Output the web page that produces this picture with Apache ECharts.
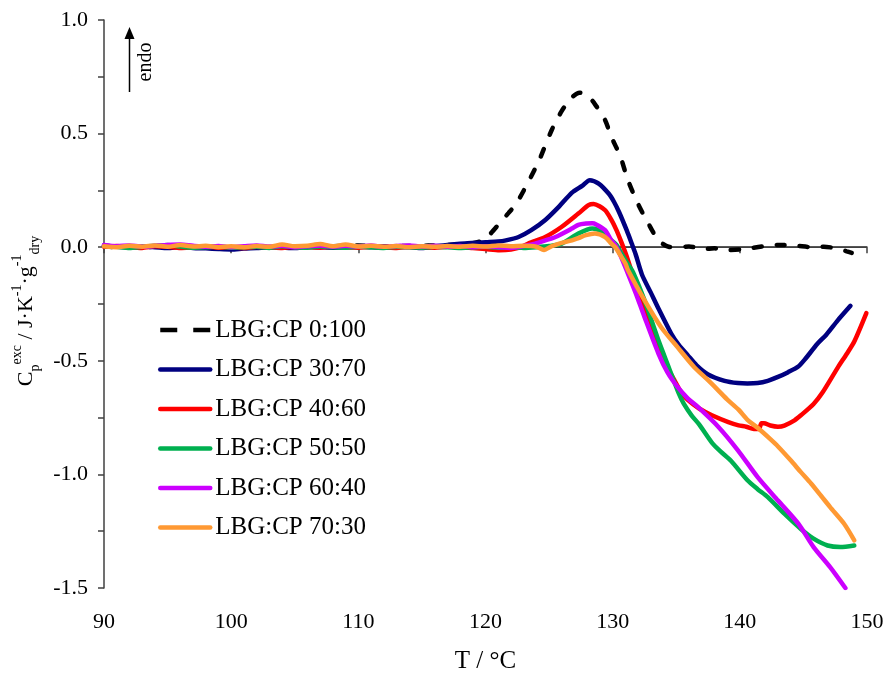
<!DOCTYPE html>
<html>
<head>
<meta charset="utf-8">
<script src="https://cdn.jsdelivr.net/npm/echarts@6/dist/echarts.min.js"></script>
<style>
  html, body { margin: 0; padding: 0; background: #fff; }
  #chart { width: 888px; height: 676px; }
</style>
</head>
<body>
<div id="chart"></div>
<script>
// Excess heat capacity curves, [T (°C), Cp exc (J·K-1·g-1 dry)]
const SERIES_NAMES = ['LBG:CP 0:100', 'LBG:CP 30:70', 'LBG:CP 40:60', 'LBG:CP 50:50', 'LBG:CP 60:40', 'LBG:CP 70:30'];
const SERIES_COLORS = ['#000000', '#000080', '#ff0000', '#00b050', '#cc00ff', '#ff9933'];

const cp0_100 = [
  [90,0.005],[91,0],[92,0.004],[93,-0.002],[94,0.003],[95,0],[96,0.004],[97,0.001],[98,-0.002],[99,-0.004],
  [100,-0.002],[101,0],[102,0.003],[103,0],[104,0.002],[105,0.004],[106,0.003],[107,0.001],[108,0.004],[109,0.006],
  [110,0.008],[111,0.005],[112,0.004],[113,0.006],[114,0.005],[115,0.006],[116,0.008],[117,0.01],[118,0.012],[119,0.018],
  [119.8,0.03],[120.4,0.06],[121.1,0.105],[121.8,0.15],[122.4,0.19],[123.3,0.28],[124.2,0.38],[125.2,0.515],[126,0.6],
  [126.8,0.66],[127.4,0.68],[127.9,0.675],[128.6,0.63],[129.4,0.56],[129.9,0.485],[130.6,0.4],[131.2,0.295],[132,0.19],
  [132.8,0.105],[133.6,0.03],[134.4,0.002],[135.1,0],[136,0.003],[137.2,-0.008],[138,-0.005],[139.1,-0.012],[140,-0.01],
  [140.9,-0.004],[142,0.005],[143,0.01],[144.5,0.006],[145.5,0.001],[146.6,0.002],[147.5,-0.004],[148.4,-0.018],[148.8,-0.025]
];
const cp30_70 = [
  [90,0.008],[91,0.002],[92,-0.002],[93,0.003],[94,0],[95,-0.004],[96,0.002],[97,-0.003],[98,-0.005],[99,-0.008],
  [100,-0.01],[101,-0.006],[102,-0.004],[103,0],[104,-0.002],[105,-0.004],[106,0.002],[107,0],[108,-0.002],[109,0],
  [110,0.003],[111,0],[112,-0.002],[113,0.002],[114,0],[115,-0.004],[116,0.004],[117,0.01],[118,0.015],[118.9,0.018],
  [120,0.022],[121,0.025],[121.6,0.03],[122.6,0.045],[123.6,0.075],[124.7,0.12],[125.8,0.18],[126.8,0.24],[127.6,0.27],
  [128.2,0.295],[128.9,0.28],[129.7,0.235],[130.1,0.2],[130.5,0.155],[131.1,0.075],[131.5,0.016],[131.8,-0.03],[132.3,-0.12],
  [133,-0.2],[133.6,-0.27],[134.6,-0.38],[135.2,-0.43],[135.9,-0.475],[136.6,-0.52],[137.5,-0.56],[138.8,-0.588],[139.85,-0.598],
  [140.6,-0.6],[141.4,-0.598],[142.2,-0.588],[143,-0.571],[143.8,-0.55],[144.6,-0.525],[145.1,-0.495],[146.1,-0.425],
  [146.8,-0.385],[147.7,-0.322],[148.7,-0.258]
];
const cp40_60 = [
  [90,0.002],[91,0.005],[92,0],[93,-0.003],[94,0.004],[95,0.002],[96,-0.003],[97,0],[98,0.003],[99,-0.002],
  [100,0],[101,-0.004],[102,0.002],[103,0],[104,-0.003],[105,0.002],[106,0],[107,-0.002],[108,0.003],[109,0],
  [110,-0.002],[111,0.002],[112,0],[113,-0.003],[114,0.002],[115,0],[116,-0.002],[117,0.002],[118,0],[119,-0.004],
  [120,-0.008],[121.1,-0.013],[122,-0.01],[122.8,0],[123.4,0.017],[124.7,0.045],[126,0.09],[127.3,0.148],[128.1,0.185],
  [128.5,0.19],[129.4,0.163],[129.9,0.12],[130.3,0.075],[130.7,0.02],[131.1,-0.04],[131.8,-0.16],[132.8,-0.32],[133.6,-0.45],
  [134.3,-0.53],[134.9,-0.59],[135.4,-0.64],[135.9,-0.672],[136.8,-0.71],[137.8,-0.74],[139.1,-0.77],[139.9,-0.784],
  [140.5,-0.79],[141.1,-0.8],[141.5,-0.8],[141.7,-0.775],[141.9,-0.775],[142.4,-0.785],[143,-0.79],[143.5,-0.785],
  [144.3,-0.762],[144.8,-0.74],[145.8,-0.69],[146.5,-0.64],[147.7,-0.53],[148.4,-0.47],[149,-0.415],[149.95,-0.29]
];
const cp50_50 = [
  [90,0.006],[91,0.002],[92,-0.003],[93,0.002],[94,0.006],[95,0.01],[96,0.003],[97,-0.002],[98,0],[99,0.003],
  [100,-0.002],[101,0],[102,0.002],[103,-0.003],[104,0.004],[105,0],[106,-0.002],[107,0.003],[108,0],[109,-0.002],
  [110,0.002],[111,0],[112,-0.003],[113,0.002],[114,0],[115,-0.002],[116,0.002],[117,0],[118,-0.003],[119,0],
  [120,0.002],[121,-0.002],[122,0],[123,-0.003],[124,0],[125,0.005],[126,0.016],[127.3,0.06],[128.4,0.082],[128.7,0.08],
  [129.2,0.067],[129.9,0.03],[130.3,0.01],[130.7,-0.028],[131.2,-0.075],[131.6,-0.11],[132.5,-0.233],[133.6,-0.41],
  [134.4,-0.527],[135.2,-0.644],[135.6,-0.69],[136.2,-0.74],[136.8,-0.78],[137.8,-0.86],[138.5,-0.9],[139.3,-0.94],
  [140.6,-1.026],[141.4,-1.065],[142.2,-1.1],[143.5,-1.173],[144.8,-1.24],[145.8,-1.283],[146.9,-1.313],[147.9,-1.32],[149,-1.313]
];
const cp60_40 = [
  [90,0.01],[91,0.004],[92,0.008],[93,0.002],[94,0.006],[95,0.01],[96,0.012],[97,0.006],[98,0.002],[99,0.005],
  [100,0],[101,0.004],[102,0.008],[103,0.003],[104,0.006],[105,0],[106,0.004],[107,0.008],[108,0.002],[109,0.006],
  [110,0.003],[111,0.007],[112,0.002],[113,0.005],[114,0.008],[115,0.003],[116,0.006],[117,0.002],[118,0.005],[119,0],
  [120,0.004],[121,0],[122,-0.003],[123,0.005],[123.9,0.016],[124.7,0.03],[125.5,0.045],[126.8,0.082],[127.3,0.098],
  [127.9,0.104],[128.4,0.105],[128.7,0.1],[129.4,0.075],[129.9,0.03],[130.2,0.01],[130.6,-0.035],[131.2,-0.116],
  [131.8,-0.2],[132.5,-0.307],[133.6,-0.468],[134.3,-0.55],[135.1,-0.615],[135.9,-0.665],[136.7,-0.703],[138.3,-0.79],
  [139.85,-0.894],[141.4,-1.012],[143,-1.115],[144.6,-1.217],[145.8,-1.32],[147.1,-1.408],[148.3,-1.5]
];
const cp70_30 = [
  [90,0.004],[91,0],[92,0.006],[93,0.002],[94,0.008],[95,0.002],[96,0.01],[97,0.003],[98,0.006],[99,0],
  [100,0.004],[101,0],[102,0.005],[103,0.002],[104,0.012],[105,0.004],[106,0.006],[107,0.014],[108,0.004],[109,0.012],
  [110,0.003],[111,0.006],[112,0.002],[113,0.005],[114,0],[115,0.004],[116,0.002],[117,0.005],[118,0.002],[119,0.006],
  [120,0.003],[121,0.008],[122,0.004],[123,0.006],[124,0.002],[124.6,-0.012],[125.2,0.004],[125.8,0.016],[126.8,0.03],
  [127.3,0.04],[127.9,0.053],[128.6,0.06],[129.4,0.045],[129.9,0.016],[130.2,0],[130.6,-0.035],[131,-0.072],[131.2,-0.1],
  [132.5,-0.233],[133.8,-0.351],[135.1,-0.44],[136.4,-0.527],[137.4,-0.58],[138.3,-0.63],[139,-0.67],[139.9,-0.715],
  [140.6,-0.76],[141.4,-0.795],[142.4,-0.845],[143,-0.877],[144,-0.938],[144.8,-0.99],[145.6,-1.04],[146.4,-1.095],
  [147.1,-1.144],[148.2,-1.217],[149,-1.29]
];
const SERIES_DATA = [cp0_100, cp30_70, cp40_60, cp50_50, cp60_40, cp70_30];

// zero reference line across the whole x range
const ZERO_LINE = [[90, 0], [150, 0]];

const X_MIN = 90, X_MAX = 150, X_STEP = 10;
const Y_MIN = -1.5, Y_MAX = 1.0, Y_STEP = 0.5;

const FONT = '"Liberation Serif", "Times New Roman", serif';
const AXIS_COLOR = '#404040';
const LINE_W = 4.5;

const chart = echarts.init(document.getElementById('chart'));

const series = [{
  name: 'zero',
  type: 'line',
  data: ZERO_LINE,
  symbol: 'none',
  silent: true,
  z: 1,
  lineStyle: { color: AXIS_COLOR, width: 1.5 },
}];
SERIES_NAMES.forEach((name, i) => {
  series.push({
    name,
    type: 'line',
    data: SERIES_DATA[i],
    symbol: 'none',
    smooth: 0.25,
    z: 2 + i,
    color: SERIES_COLORS[i],
    lineStyle: i === 0
      ? { color: SERIES_COLORS[i], width: LINE_W, type: [8, 15], cap: 'round' }
      : { color: SERIES_COLORS[i], width: LINE_W, cap: 'round', join: 'round' },
    emphasis: { disabled: true },
  });
});

// legend entries: the dashed sample shows two long dashes like the original
const legendData = SERIES_NAMES.map((name, i) => ({
  name,
  lineStyle: i === 0
    ? { color: SERIES_COLORS[i], width: LINE_W, type: [17, 16], cap: 'butt' }
    : { color: SERIES_COLORS[i], width: LINE_W, cap: 'round' },
}));

chart.setOption({
  animation: false,
  backgroundColor: '#fff',
  textStyle: { fontFamily: FONT },
  grid: { left: 104, right: 21, top: 20, bottom: 88, containLabel: false, outerBoundsMode: 'none' },
  legend: {
    data: legendData,
    orient: 'vertical',
    left: 153,
    top: 312,
    itemWidth: 50,
    itemHeight: 14,
    itemGap: 13.5,
    itemStyle: { opacity: 0 },
    lineStyle: { width: LINE_W },
    textStyle: { fontFamily: FONT, fontSize: 25, lineHeight: 26, color: '#000' },
  },
  xAxis: {
    type: 'value',
    min: X_MIN,
    max: X_MAX,
    interval: X_STEP,
    name: 'T / °C',
    nameLocation: 'middle',
    nameGap: 61,
    nameTextStyle: { fontFamily: FONT, fontSize: 25, color: '#000' },
    axisLine: { lineStyle: { color: AXIS_COLOR, width: 1.5 } },
    axisTick: { length: 6, lineStyle: { color: AXIS_COLOR, width: 1.5 } },
    axisLabel: { fontFamily: FONT, fontSize: 22, color: '#000', margin: 23 },
    splitLine: { show: false },
  },
  yAxis: {
    type: 'value',
    min: Y_MIN,
    max: Y_MAX,
    interval: Y_STEP,
    name: '{m|C}{sub|p}{sup|exc}{m| / J·K}{sup|-1}{m|·g}{sup|-1}{sub|dry}',
    nameLocation: 'middle',
    nameRotate: 90,
    nameGap: 58,
    nameTextStyle: {
      fontFamily: FONT,
      color: '#000',
      padding: [0, 14, 0, 0],
      rich: {
        m: { fontFamily: FONT, fontSize: 22, lineHeight: 32, color: '#000' },
        sup: { fontFamily: FONT, fontSize: 14, lineHeight: 14, verticalAlign: 'top', color: '#000' },
        sub: { fontFamily: FONT, fontSize: 14, lineHeight: 14, verticalAlign: 'bottom', color: '#000' },
      },
    },
    axisLine: { show: true, lineStyle: { color: AXIS_COLOR, width: 1.5 } },
    axisTick: { show: true, length: 6, lineStyle: { color: AXIS_COLOR, width: 1.5 } },
    minorTick: { show: true, splitNumber: 2, length: 6, lineStyle: { color: AXIS_COLOR, width: 1.5 } },
    axisLabel: {
      fontFamily: FONT, fontSize: 22, color: '#000', margin: 16,
      formatter: (v) => v.toFixed(1),
    },
    splitLine: { show: false },
  },
  graphic: [
    { type: 'line', shape: { x1: 129.5, y1: 92, x2: 129.5, y2: 36 }, style: { stroke: '#000', lineWidth: 1.5 } },
    { type: 'polygon', shape: { points: [[129.5, 27], [124.5, 39], [134.5, 39]] }, style: { fill: '#000' } },
    {
      type: 'text', x: 146, y: 62, rotation: Math.PI / 2,
      style: { text: 'endo', font: '20px ' + FONT, fill: '#000', align: 'center', verticalAlign: 'middle' },
    },
  ],
  series,
});
</script>
</body>
</html>
